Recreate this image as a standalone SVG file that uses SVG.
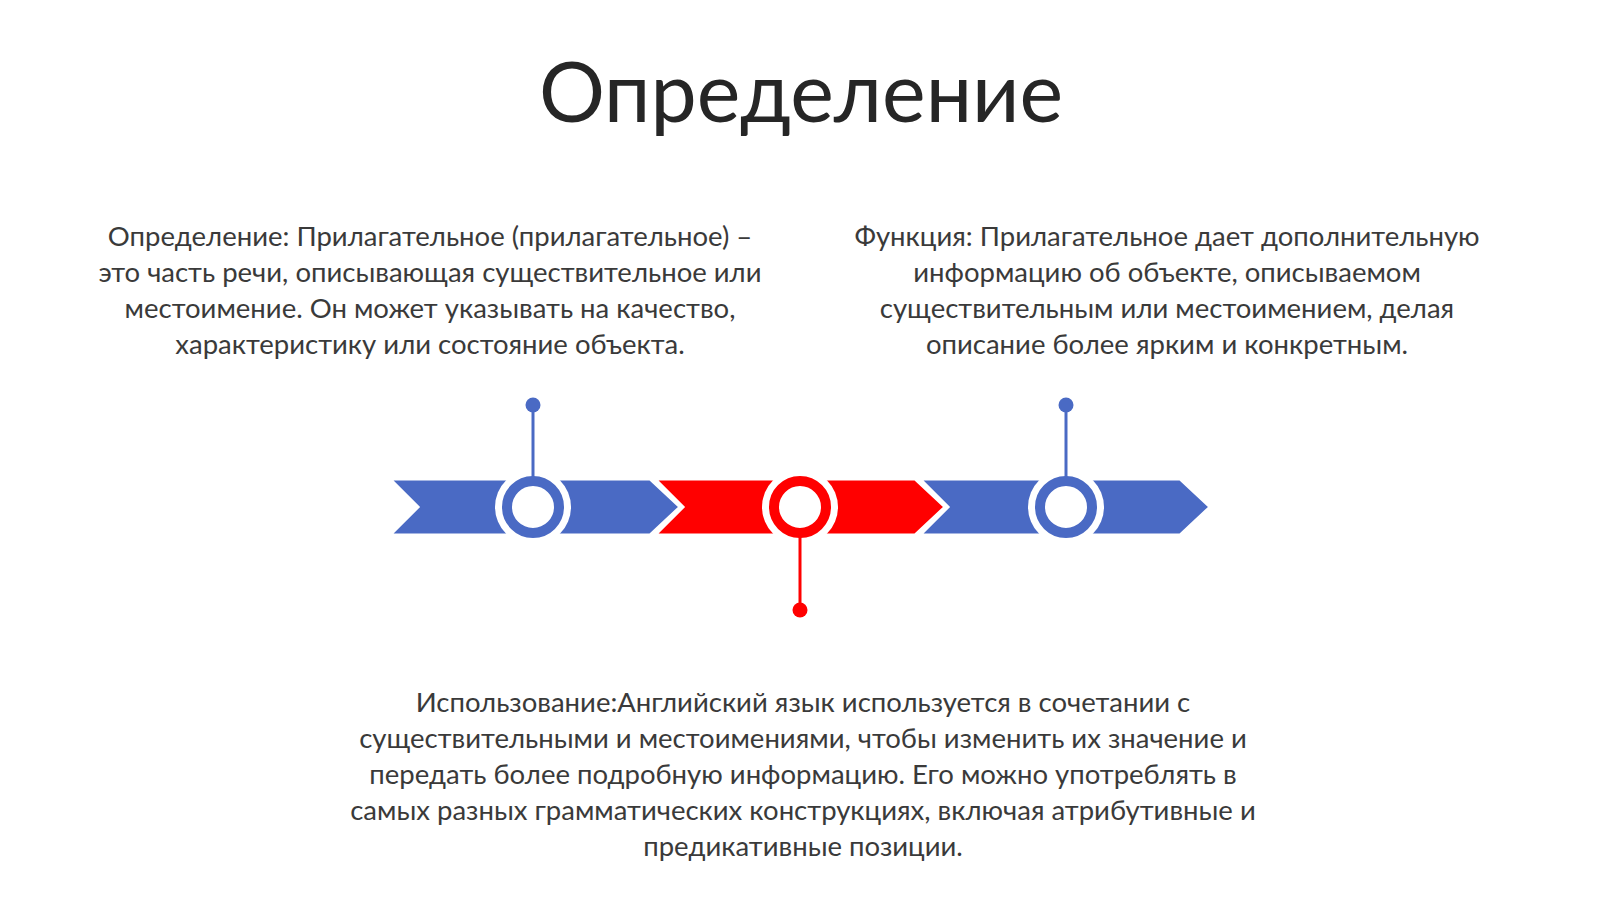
<svg xmlns="http://www.w3.org/2000/svg" width="1600" height="899" viewBox="0 0 1600 899">
<style>
.title{font-family:Lato,"Liberation Sans",sans-serif;font-size:82.5px;fill:#262626;text-anchor:middle}
.body{font-family:Lato,"Liberation Sans",sans-serif;font-size:27.5px;fill:#3a3a3a;text-anchor:middle}
.blue{fill:#4A6AC4}
.red{fill:#FF0000}
.seg{stroke:#ffffff;stroke-width:3;stroke-linejoin:miter}
.halo{fill:#ffffff}
.ringb{fill:#ffffff;stroke:#4A6AC4;stroke-width:10}
.ringr{fill:#ffffff;stroke:#FF0000;stroke-width:10}
.stemb{stroke:#4A6AC4;stroke-width:3}
.stemr{stroke:#FF0000;stroke-width:3}
</style>
<rect width="1600" height="899" fill="#ffffff"/>
<g id="title"><text class="title" x="801" y="122">Определение</text></g>
<g id="segments">
<polygon class="seg blue" points="390,479 650,479 680,507 650,535 390,535 418,507"/>
<polygon class="seg red" points="655,479 915,479 945,507 915,535 655,535 683,507"/>
<polygon class="seg blue" points="920,479 1180,479 1210,507 1180,535 920,535 948,507"/>
</g>
<g id="node1">
<circle class="halo" cx="533" cy="507" r="38"/>
<circle class="ringb" cx="533" cy="507" r="26"/>
<circle class="blue" cx="533" cy="405" r="7.5"/>
</g>
<g id="node2">
<circle class="halo" cx="800" cy="507" r="38"/>
<circle class="ringr" cx="800" cy="507" r="26"/>
<circle class="red" cx="800" cy="610" r="7.5"/>
</g>
<g id="node3">
<circle class="halo" cx="1066" cy="507" r="38"/>
<circle class="ringb" cx="1066" cy="507" r="26"/>
<circle class="blue" cx="1066" cy="405" r="7.5"/>
</g>
<g id="connectors">
<line class="stemb" x1="533" y1="405" x2="533" y2="478"/>
<line class="stemr" x1="800" y1="536" x2="800" y2="610"/>
<line class="stemb" x1="1066" y1="405" x2="1066" y2="478"/>
</g>
<g id="text-definition">
<text class="body" x="430" y="246">Определение: Прилагательное (прилагательное) –</text>
<text class="body" x="430" y="282">это часть речи, описывающая существительное или</text>
<text class="body" x="430" y="318">местоимение. Он может указывать на качество,</text>
<text class="body" x="430" y="354">характеристику или состояние объекта.</text>
</g>
<g id="text-function">
<text class="body" x="1167" y="246">Функция: Прилагательное дает дополнительную</text>
<text class="body" x="1167" y="282">информацию об объекте, описываемом</text>
<text class="body" x="1167" y="318">существительным или местоимением, делая</text>
<text class="body" x="1167" y="354">описание более ярким и конкретным.</text>
</g>
<g id="text-usage">
<text class="body" x="803" y="712">Использование:Английский язык используется в сочетании с</text>
<text class="body" x="803" y="748">существительными и местоимениями, чтобы изменить их значение и</text>
<text class="body" x="803" y="784">передать более подробную информацию. Его можно употреблять в</text>
<text class="body" x="803" y="820">самых разных грамматических конструкциях, включая атрибутивные и</text>
<text class="body" x="803" y="856">предикативные позиции.</text>
</g>
</svg>
